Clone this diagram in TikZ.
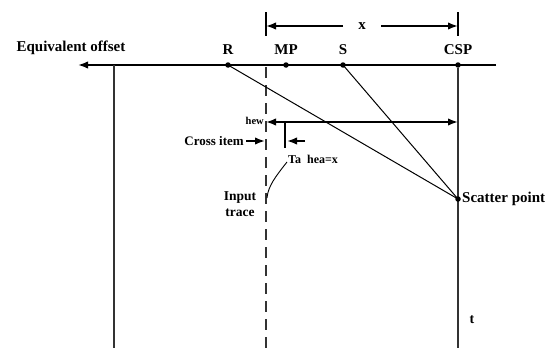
\documentclass[tikz,border=0pt]{standalone}
\usepackage{fontspec}
\setmainfont{Liberation Serif}
\usetikzlibrary{arrows.meta}
\begin{document}
\begin{tikzpicture}[x=1pt,y=-1pt,
  lab/.style={font=\bfseries\fontsize{15}{17}\selectfont, inner sep=0pt},
  smalllab/.style={font=\bfseries\fontsize{12}{14}\selectfont, inner sep=0pt},
  dot/.style={circle, fill=black, inner sep=0pt, minimum size=5.5pt},
  axisline/.style={line width=1.8pt},
  trace/.style={line width=1.3pt, draw=black!80},
  ray/.style={line width=1pt},
  tip/.style={-{Latex[length=10pt,width=7.5pt]}},
  dtip/.style={{Latex[length=10pt,width=7.5pt]}-{Latex[length=10pt,width=7.5pt]}}
]
\useasboundingbox (0,0) rectangle (552,348);

% offset axis and its points
\coordinate (axR) at (496,65);
\coordinate (axL) at (78,65);
\draw[axisline, tip] (axR) -- (axL);
\node[lab] (eqoff) at (71,48) {Equivalent offset};

\node[dot] (R) at (228,65) {};
\node[dot] (MP) at (286,65) {};
\node[dot] (S) at (343,65) {};
\node[dot] (CSP) at (458,65) {};
\node[lab] (Rl) at (228,50) {R};
\node[lab] (MPl) at (286,50) {MP};
\node[lab] (Sl) at (343,50) {S};
\node[lab] (CSPl) at (458,50) {CSP};

% traces
\coordinate (v1t) at (114,65);
\coordinate (v1b) at (114,348);
\draw[trace] (v1t) -- (v1b);
\coordinate (dt) at (266,65);
\coordinate (db) at (266,348);
\draw[trace, dash pattern=on 11pt off 7pt, dash phase=-2pt] (dt) -- (db);
\coordinate (cb) at (458,348);
\draw[trace] (CSP) -- (cb);

% scatter point and rays
\node[dot] (SP) at (458,199) {};
\draw[ray] (R.center) -- (SP.center);
\draw[ray] (S.center) -- (SP.center);
\node[lab, anchor=west] (SPl) at (462,199) {Scatter point};
\node[smalllab, font=\bfseries\fontsize{14}{16}\selectfont] (t) at (472,320) {t};

% distance x between trace and CSP
\coordinate (tk1a) at (266,12);
\coordinate (tk1b) at (266,36);
\coordinate (tk2a) at (458,12);
\coordinate (tk2b) at (458,36);
\draw[line width=1.2pt] (tk1a) -- (tk1b);
\draw[line width=1.2pt] (tk2a) -- (tk2b);
\node[lab] (xl) at (362,26) {x};
\coordinate (xa1) at (266,26);
\coordinate (xa2) at (458,26);
\coordinate (xs1) at (343,26);
\coordinate (xs2) at (381,26);
\draw[axisline, tip] (xs1) -- (xa1);
\draw[axisline, tip] (xs2) -- (xa2);

% hew arrow
\coordinate (hw1) at (266,122);
\coordinate (hw2) at (458,122);
\draw[axisline, dtip] (hw1) -- (hw2);
\node[font=\bfseries\fontsize{10.5}{12}\selectfont, inner sep=0pt, anchor=east] (hew) at (264,121) {hew};

% cross item marks
\coordinate (ck1) at (285,122);
\coordinate (ck2) at (285,148);
\draw[line width=1.3pt] (ck1) -- (ck2);
\coordinate (ca1) at (305,141);
\coordinate (ca2) at (287,141);
\draw[axisline, tip] (ca1) -- (ca2);
\node[smalllab, font=\bfseries\fontsize{13}{14}\selectfont, anchor=east] (cross) at (244,141) {Cross item};
\coordinate (cb1) at (246,141);
\coordinate (cb2) at (265,141);
\draw[axisline, tip] (cb1) -- (cb2);

\node[smalllab, anchor=west] (ta) at (288,159) {Ta\ \ hea=x};
\coordinate (cv1) at (287,162);
\coordinate (cv2) at (267,198);
\draw[line width=0.9pt] (cv1) .. controls (276,176) and (268,186) .. (cv2);

\node[smalllab, font=\bfseries\fontsize{13.5}{16}\selectfont, align=center] (inp) at (240,204) {Input\\trace};
\end{tikzpicture}
\end{document}
